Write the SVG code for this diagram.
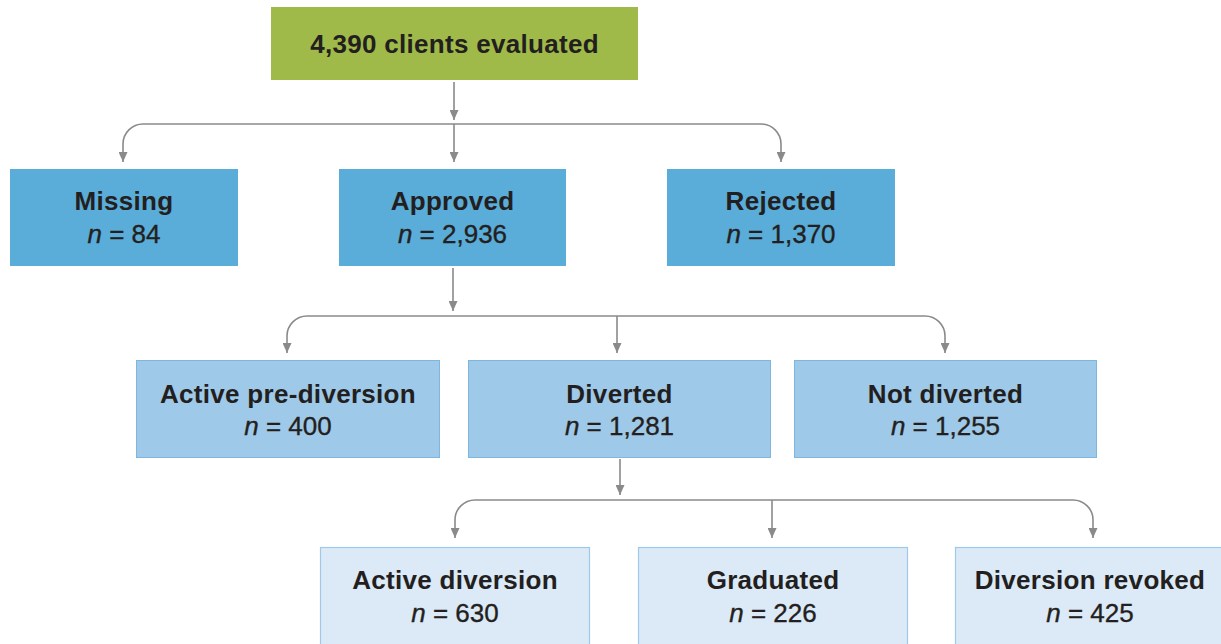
<svg xmlns="http://www.w3.org/2000/svg" width="1221" height="644" viewBox="0 0 1221 644">
  <style>
    .lbl { fill: #231f20; text-anchor: middle; font-size: 26px; }
    .title { font-weight: bold; letter-spacing: 0.3px; }
    .count { font-weight: normal; letter-spacing: 0; stroke: #231f20; stroke-width: 0.35; }
    .n { font-style: italic; }
    .lvl0 { fill: #9fba48; }
    .lvl1 { fill: #5aacd9; }
    .lvl2 { fill: #9ec9e8; stroke: #7db7df; stroke-width: 1; }
    .lvl3 { fill: #dce9f6; stroke: #9ec9e8; stroke-width: 1.2; }
    .conn { fill: none; stroke: #8a8a8a; stroke-width: 1.6; marker-end: url(#arrow); }
  </style>
  <defs>
    <marker id="arrow" markerUnits="userSpaceOnUse" markerWidth="10" markerHeight="9" refX="10" refY="4.5" orient="auto">
      <path d="M0,0 L10,4.5 L0,9 Z" fill="#8a8a8a"/>
    </marker>
  </defs>

  <rect width="1221" height="644" fill="#ffffff"/>

  <!-- connectors -->
  <g id="connectors">
    <!-- evaluated -> first split -->
    <path class="conn" d="M454,82 V120"/>
    <path class="conn" d="M454,124 H143 A20,20 0 0 0 123,144 V162"/>
    <path class="conn" d="M454,124 V162"/>
    <path class="conn" d="M454,124 H761 A20,20 0 0 1 781,144 V162"/>
    <!-- approved -> second split -->
    <path class="conn" d="M453,268 V311"/>
    <path class="conn" d="M617,316 H307 A20,20 0 0 0 287,336 V353"/>
    <path class="conn" d="M617,316 V353"/>
    <path class="conn" d="M617,316 H925 A20,20 0 0 1 945,336 V353"/>
    <!-- diverted -> third split -->
    <path class="conn" d="M620,459 V495"/>
    <path class="conn" d="M772,500 H475 A20,20 0 0 0 455,520 V538"/>
    <path class="conn" d="M772,500 V538"/>
    <path class="conn" d="M772,500 H1073 A20,20 0 0 1 1093,520 V538"/>
  </g>

  <g font-family="Liberation Sans, Arial, sans-serif">
  <g id="evaluated">
    <rect class="lvl0" x="271" y="7" width="367" height="73"/>
    <text class="lbl title" x="454.5" y="53">4,390 clients evaluated</text>
  </g>

  <g id="missing">
    <rect class="lvl1" x="10" y="169" width="228" height="97"/>
    <text class="lbl title" x="124" y="210">Missing</text>
    <text class="lbl count" x="124" y="243"><tspan class="n">n</tspan> = 84</text>
  </g>
  <g id="approved">
    <rect class="lvl1" x="339" y="169" width="227" height="97"/>
    <text class="lbl title" x="452.5" y="210">Approved</text>
    <text class="lbl count" x="452.5" y="243"><tspan class="n">n</tspan> = 2,936</text>
  </g>
  <g id="rejected">
    <rect class="lvl1" x="667" y="169" width="228" height="97"/>
    <text class="lbl title" x="781" y="210">Rejected</text>
    <text class="lbl count" x="781" y="243"><tspan class="n">n</tspan> = 1,370</text>
  </g>

  <g id="active-pre-diversion">
    <rect class="lvl2" x="136.5" y="360.5" width="303" height="97"/>
    <text class="lbl title" x="288" y="403">Active pre-diversion</text>
    <text class="lbl count" x="288" y="435"><tspan class="n">n</tspan> = 400</text>
  </g>
  <g id="diverted">
    <rect class="lvl2" x="468.5" y="360.5" width="302" height="97"/>
    <text class="lbl title" x="619.5" y="403">Diverted</text>
    <text class="lbl count" x="619.5" y="435"><tspan class="n">n</tspan> = 1,281</text>
  </g>
  <g id="not-diverted">
    <rect class="lvl2" x="794.5" y="360.5" width="302" height="97"/>
    <text class="lbl title" x="945.5" y="403">Not diverted</text>
    <text class="lbl count" x="945.5" y="435"><tspan class="n">n</tspan> = 1,255</text>
  </g>

  <g id="active-diversion">
    <rect class="lvl3" x="320.5" y="547.5" width="269" height="110"/>
    <text class="lbl title" x="455" y="589">Active diversion</text>
    <text class="lbl count" x="455" y="622"><tspan class="n">n</tspan> = 630</text>
  </g>
  <g id="graduated">
    <rect class="lvl3" x="638.5" y="547.5" width="269" height="110"/>
    <text class="lbl title" x="773" y="589">Graduated</text>
    <text class="lbl count" x="773" y="622"><tspan class="n">n</tspan> = 226</text>
  </g>
  <g id="diversion-revoked">
    <rect class="lvl3" x="955.5" y="547.5" width="280" height="110"/>
    <text class="lbl title" x="1090" y="589">Diversion revoked</text>
    <text class="lbl count" x="1090" y="622"><tspan class="n">n</tspan> = 425</text>
  </g>
  </g>
</svg>
